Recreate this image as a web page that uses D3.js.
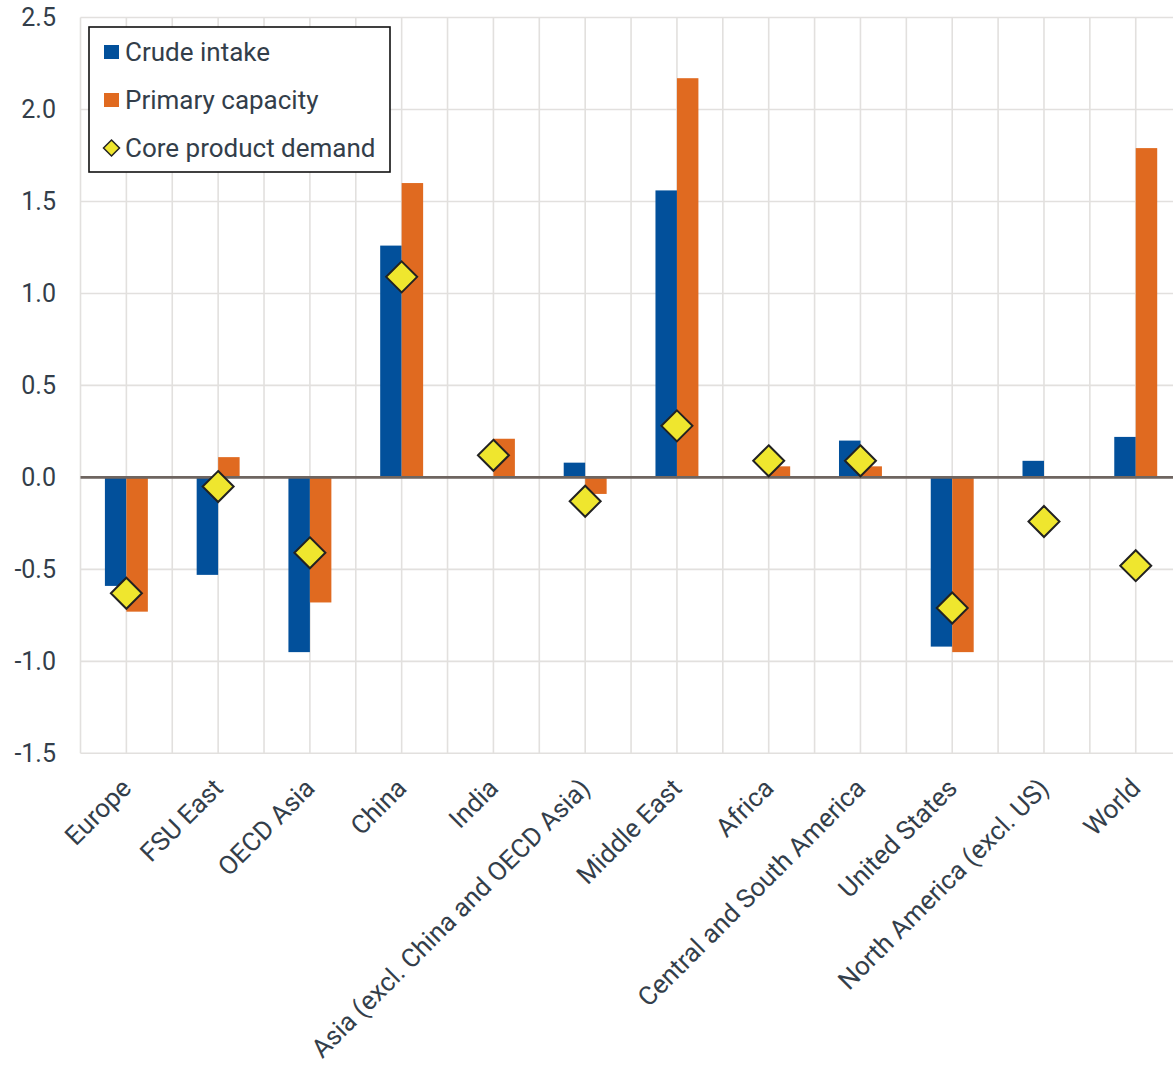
<!DOCTYPE html>
<html>
<head>
<meta charset="utf-8">
<script src="https://cdn.jsdelivr.net/npm/d3@7"></script>
<style>
  html, body { margin: 0; padding: 0; background: #fff; }
  svg { display: block; font-family: Roboto, "Noto Sans", sans-serif; }
</style>
</head>
<body>
<svg id="chart" width="1173" height="1065"></svg>
<script>
// Regions along the x axis
const categories = [
  "Europe", "FSU East", "OECD Asia", "China", "India",
  "Asia (excl. China and OECD Asia)", "Middle East", "Africa",
  "Central and South America", "United States",
  "North America (excl. US)", "World"
];

// Change by region (mb/d)
const crudeIntake      = [-0.59, -0.53, -0.95, 1.26, 0.00, 0.08, 1.56, 0.00, 0.20, -0.92, 0.09, 0.22];
const primaryCapacity  = [-0.73,  0.11, -0.68, 1.60, 0.21, -0.09, 2.17, 0.06, 0.06, -0.95, 0.00, 1.79];
const coreDemand       = [-0.63, -0.05, -0.41, 1.09, 0.12, -0.13, 0.28, 0.09, 0.09, -0.71, -0.24, -0.48];

const yTicks = [-1.5, -1.0, -0.5, 0.0, 0.5, 1.0, 1.5, 2.0, 2.5];

const seriesNames = ["Crude intake", "Primary capacity", "Core product demand"];
const colors = { blue: "#02509b", orange: "#e06a20", yellow: "#efe62e" };
const textColor = "#333e4a";

const svg = d3.select("#chart");

const plot = { left: 80.5, top: 17.5, bottom: 753.3, bandW: 91.76 };
const x = d3.scaleBand()
  .domain(categories)
  .range([plot.left, plot.left + plot.bandW * categories.length])
  .padding(0);
const y = d3.scaleLinear().domain([-1.5, 2.5]).range([plot.bottom, plot.top]);

const barW = x.bandwidth() * 0.234;
const sub = d3.scaleBand().domain(["Crude intake", "Primary capacity"]).range([-barW, barW]);

// Grid: horizontal at ticks, vertical at band edges and band centres
const grid = svg.append("g").attr("stroke", "#e2e0de").attr("stroke-width", 1.6);
grid.selectAll("line.h").data(yTicks).join("line")
  .attr("x1", plot.left).attr("x2", x.range()[1])
  .attr("y1", d => y(d)).attr("y2", d => y(d));
const vLines = [];
categories.forEach(c => { vLines.push(x(c)); vLines.push(x(c) + x.bandwidth() / 2); });
vLines.push(x.range()[1]);
grid.selectAll("line.v").data(vLines).join("line")
  .attr("x1", d => d).attr("x2", d => d)
  .attr("y1", plot.top).attr("y2", plot.bottom);

// Bars
const bars = svg.append("g");
const cx = c => x(c) + x.bandwidth() / 2;
bars.selectAll("rect.ci").data(categories).join("rect")
  .attr("fill", colors.blue)
  .attr("x", c => cx(c) + sub("Crude intake"))
  .attr("width", barW)
  .attr("y", (c, i) => y(Math.max(0, crudeIntake[i])))
  .attr("height", (c, i) => Math.abs(y(crudeIntake[i]) - y(0)));
bars.selectAll("rect.pc").data(categories).join("rect")
  .attr("fill", colors.orange)
  .attr("x", c => cx(c) + sub("Primary capacity"))
  .attr("width", barW)
  .attr("y", (c, i) => y(Math.max(0, primaryCapacity[i])))
  .attr("height", (c, i) => Math.abs(y(primaryCapacity[i]) - y(0)));

// Zero line
svg.append("line")
  .attr("x1", plot.left).attr("x2", x.range()[1])
  .attr("y1", y(0)).attr("y2", y(0))
  .attr("stroke", "#6e6560").attr("stroke-width", 2.6);

// Diamonds
const diamond = r => `M0,${-r}L${r},0L0,${r}L${-r},0Z`;
svg.append("g").selectAll("path").data(categories).join("path")
  .attr("d", diamond(15.5))
  .attr("transform", (c, i) => `translate(${cx(c)},${y(coreDemand[i])})`)
  .attr("fill", colors.yellow)
  .attr("stroke", "#222")
  .attr("stroke-width", 2);

// Y axis labels (plain hyphen for negatives)
const yAxis = d3.axisLeft(y).tickValues(yTicks).tickFormat(d => d.toFixed(1)).tickSize(0).tickPadding(0);
const ya = svg.append("g").attr("transform", "translate(56,0)").call(yAxis);
ya.select(".domain").remove();
ya.selectAll("text")
  .attr("fill", textColor)
  .style("font-size", "25px")
  .style("font-family", "Roboto, sans-serif");

// X axis labels, rotated
const xa = svg.append("g");
xa.selectAll("text").data(categories).join("text")
  .attr("transform", c => `translate(${cx(c)},${plot.bottom + 30}) rotate(-45)`)
  .attr("text-anchor", "end")
  .attr("dy", "0.35em")
  .attr("fill", textColor)
  .style("font-size", "26px")
  .text(c => c);

// Legend
const lg = svg.append("g").attr("transform", "translate(89,27)");
lg.append("rect").attr("width", 301).attr("height", 145)
  .attr("fill", "#fff").attr("stroke", "#111").attr("stroke-width", 1.6);
const legendItems = [
  { name: seriesNames[0], type: "square", color: colors.blue },
  { name: seriesNames[1], type: "square", color: colors.orange },
  { name: seriesNames[2], type: "diamond", color: colors.yellow }
];
const li = lg.selectAll("g.item").data(legendItems).join("g")
  .attr("transform", (d, i) => `translate(0,${25 + i * 48})`);
li.filter(d => d.type === "square").append("rect")
  .attr("x", 15).attr("y", -7).attr("width", 15).attr("height", 14)
  .attr("fill", d => d.color);
li.filter(d => d.type === "diamond").append("path")
  .attr("d", diamond(8))
  .attr("transform", "translate(22.5,0)")
  .attr("fill", d => d.color).attr("stroke", "#222").attr("stroke-width", 1.5);
li.append("text")
  .attr("x", 36).attr("dy", "0.35em")
  .attr("fill", textColor)
  .style("font-size", "26px")
  .text(d => d.name);
</script>
</body>
</html>
